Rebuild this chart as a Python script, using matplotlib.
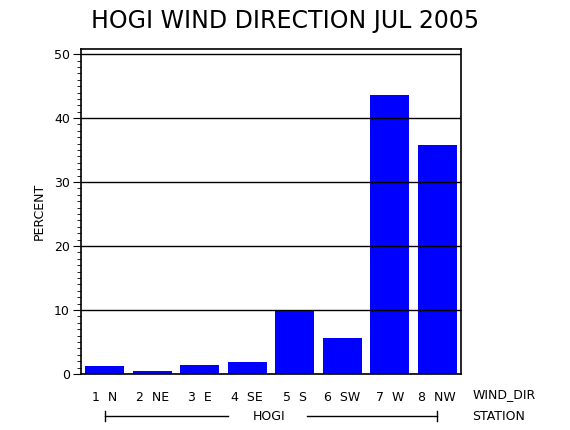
import matplotlib.pyplot as plt
from matplotlib.ticker import MultipleLocator

# data
directions = ['1  N', '2  NE', '3  E', '4  SE', '5  S', '6  SW', '7  W', '8  NW']
percent = [1.25, 0.5, 1.4, 1.9, 10.0, 5.6, 43.6, 35.8]
station = 'HOGI'
title = 'HOGI WIND DIRECTION JUL 2005'

plt.rcParams['font.family'] = ['DejaVu Sans']

fig = plt.figure(figsize=(5.7, 4.3), dpi=100)
ax = fig.add_axes([81 / 570, 1 - 374 / 430, 380 / 570, 325 / 430])

x = range(len(directions))
ax.bar(x, percent, width=0.82, color='#0000ff', zorder=2)

ax.set_xlim(-0.5, len(directions) - 0.5)
ax.set_ylim(0, 50.8)
ax.yaxis.set_major_locator(MultipleLocator(10))
ax.yaxis.set_minor_locator(MultipleLocator(1))
ax.set_axisbelow(False)
ax.grid(axis='y', color='black', linewidth=1, zorder=3)
for s in ax.spines.values():
    s.set_linewidth(1.2)

ax.set_xticks(list(x))
ax.set_xticklabels(directions, fontsize=9)
ax.tick_params(axis='x', length=0, pad=12)
ax.tick_params(axis='y', which='major', length=6, labelsize=9, pad=2)
ax.tick_params(axis='y', which='minor', length=3)
ax.set_ylabel('PERCENT', fontsize=9, labelpad=6)

# group axis labels on the right
ax.text(1.03, -0.062, 'WIND_DIR', transform=ax.transAxes, fontsize=9, va='center')
ax.text(1.03, -0.13, 'STATION', transform=ax.transAxes, fontsize=9, va='center')

# station bracket under the ticks
trans = ax.get_xaxis_transform()
yb = -0.13
ax.plot([0, 2.6], [yb, yb], color='black', lw=1, transform=trans, clip_on=False)
ax.plot([4.25, 7], [yb, yb], color='black', lw=1, transform=trans, clip_on=False)
for xe in (0, 7):
    ax.plot([xe, xe], [yb - 0.015, yb + 0.015], color='black', lw=1, transform=trans, clip_on=False)
ax.text(3.45, yb, station, transform=trans, fontsize=9, ha='center', va='center')

fig.text(285 / 570, 1 - 21 / 430, title, fontsize=17, ha='center', va='center')

fig.savefig('out.png', dpi=100)
